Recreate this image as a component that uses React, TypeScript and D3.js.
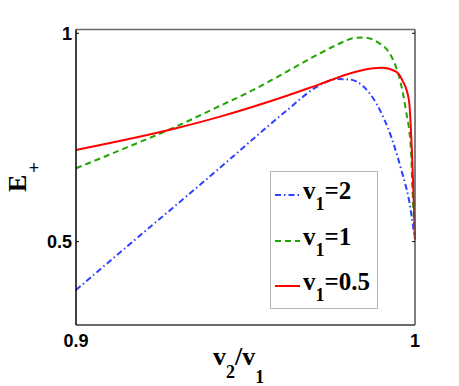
import * as d3 from 'd3';

// v2/v1 sample positions and E+ values
const xRed = [0.9, 0.9295, 0.9425, 0.9622, 0.972, 0.9818, 0.9877, 0.9903, 0.9944, 0.9962, 0.9982, 1.0];
const eRed = [0.72, 0.772, 0.8, 0.85, 0.878, 0.906, 0.916, 0.917, 0.908, 0.888, 0.84, 0.505];

const xGreen = [0.9, 0.915, 0.9295, 0.9425, 0.9523, 0.9622, 0.972, 0.9769, 0.9818, 0.9848, 0.9887, 0.9933, 0.9953, 0.9973, 0.9988, 0.9993, 1.0];
const eGreen = [0.676, 0.726, 0.776, 0.826, 0.864, 0.908, 0.952, 0.972, 0.988, 0.99, 0.98, 0.94, 0.896, 0.816, 0.72, 0.617, 0.505];

const xBlue = [0.9, 0.915, 0.93, 0.945, 0.9552, 0.9622, 0.972, 0.9769, 0.9808, 0.9848, 0.9887, 0.9933, 0.9962, 0.9982, 0.9997, 1.0];
const eBlue = [0.384, 0.488, 0.591, 0.695, 0.767, 0.815, 0.876, 0.89, 0.889, 0.872, 0.83, 0.744, 0.665, 0.601, 0.522, 0.505];

const xTicks = [0.9, 1];
const yTicks = [0.5, 1];

const series = [
  { sub: '1', val: '=2', xs: xBlue, ys: eBlue, color: '#2f3fff', dash: '6,3,1.5,3' },
  { sub: '1', val: '=1', xs: xGreen, ys: eGreen, color: '#22a500', dash: '6,4' },
  { sub: '1', val: '=0.5', xs: xRed, ys: eRed, color: '#ff0000', dash: null },
];

const W = 459;
const H = 386;

export default function App() {
  const x = d3.scaleLinear([0.9, 1], [76, 415]);
  const y = d3.scaleLinear([0.3, 1.009], [325, 29.5]);

  const line = d3.line<[number, number]>()
    .x(d => x(d[0]))
    .y(d => y(d[1]))
    .curve(d3.curveMonotoneX);

  const tickFont = { fontFamily: 'Liberation Sans, Arial, sans-serif', fontWeight: 700, fontSize: 18 };
  const serif = 'Liberation Serif, Times New Roman, serif';

  const legendY = [195, 241, 286];

  return (
    <svg width={W} height={H} style={{ position: 'absolute', left: 0, top: 0, background: '#fff' }}>
      <rect x={0} y={0} width={W} height={H} fill="#fff" />

      {series.map((s, i) => (
        <path
          key={i}
          d={line(s.xs.map((v, j) => [v, s.ys[j]]) as [number, number][]) || ''}
          fill="none"
          stroke={s.color}
          strokeWidth={2}
          strokeDasharray={s.dash || undefined}
        />
      ))}

      {/* frame */}
      <line x1={x(0.9)} x2={x(1)} y1={29.5} y2={29.5} stroke="#6a6a6a" strokeWidth={1.5} />
      <line x1={x(1)} x2={x(1)} y1={29.5} y2={325} stroke="#555" strokeWidth={1.5} />
      <line x1={x(0.9)} x2={x(1)} y1={325} y2={325} stroke="#6a6a6a" strokeWidth={2} />
      <line x1={x(0.9)} x2={x(0.9)} y1={29.5} y2={325} stroke="#000" strokeWidth={1.5} />

      {yTicks.map(t => (
        <g key={t}>
          <line x1={x(0.9)} x2={x(0.9) + 3} y1={y(t)} y2={y(t)} stroke="#000" />
          <line x1={x(1) - 3} x2={x(1)} y1={y(t)} y2={y(t)} stroke="#000" />
          <text x={72} y={y(t) + 6.5} textAnchor="end" style={tickFont}>{String(t)}</text>
        </g>
      ))}
      {xTicks.map(t => (
        <text key={t} x={x(t)} y={347} textAnchor="middle" style={tickFont}>{String(t)}</text>
      ))}

      {/* axis labels */}
      <text transform="translate(26,192) rotate(-90)" fontFamily={serif} fontWeight={700} fontSize={26}>E</text>
      <text x={34} y={174} textAnchor="middle" fontFamily={serif} fontWeight={700} fontSize={18}>+</text>

      <text x={213} y={365} fontFamily={serif} fontWeight={700} fontSize={26}>
        v<tspan dy={13} fontSize={18}>2</tspan><tspan dy={-13}>/v</tspan><tspan dy={18} fontSize={18}>1</tspan>
      </text>

      {/* legend */}
      <rect x={270.5} y={171.5} width={107} height={137} fill="#fff" stroke="#b5b5b5" />
      {series.map((s, i) => (
        <g key={i}>
          <line x1={275} x2={300} y1={legendY[i]} y2={legendY[i]} stroke={s.color} strokeWidth={2} strokeDasharray={s.dash || undefined} />
          <text x={303} y={legendY[i] + 4} fontFamily={serif} fontWeight={700} fontSize={25}>
            v<tspan dy={11} fontSize={18}>{s.sub}</tspan><tspan dy={-11}>{s.val}</tspan>
          </text>
        </g>
      ))}
    </svg>
  );
}
